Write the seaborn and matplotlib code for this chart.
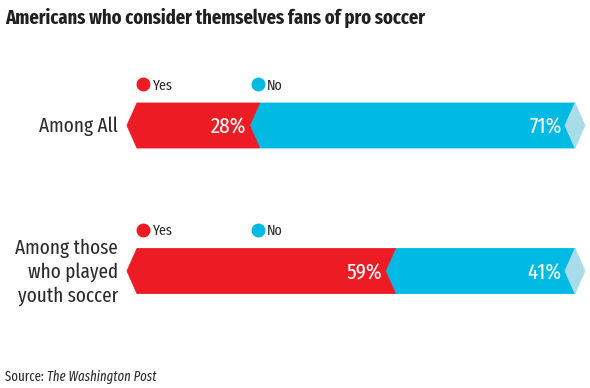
import pandas as pd
import seaborn as sns
import matplotlib.pyplot as plt
from matplotlib.patches import Polygon

# data
groups = ['Among All', 'Among those\nwho played\nyouth soccer']
yes_pct = [28, 59]
no_pct = [71, 41]
scale_max = 100
legend_labels = ['Yes', 'No']

RED = '#ED1C24'
CYAN = '#00BAE3'
TIP = '#A9DCEA'
INK = '#2b2b2b'

sns.set_style('white')
plt.rcParams['font.family'] = ['Fira Sans Extra Condensed', 'DejaVu Sans']

W, H = 590, 388
fig = plt.figure(figsize=(W / 100, H / 100), dpi=100)

# axes box in pixels: 0..100 spans x 137..575
ax_l, ax_r, ax_t, ax_b = 137, 575, 60, 340
ax = fig.add_axes([ax_l / W, (H - ax_b) / H, (ax_r - ax_l) / W, (ax_b - ax_t) / H])

df = pd.DataFrame({'group': groups, 'yes': yes_pct, 'no': no_pct})
df['end'] = scale_max  # "No" runs to the end of the scale

bar_w = 45 / 145.5
sns.barplot(data=df, x='end', y='group', color=CYAN, width=bar_w,
            saturation=1, ax=ax, orient='h')
sns.barplot(data=df, x='yes', y='group', color=RED, width=bar_w,
            saturation=1, ax=ax, orient='h')

ax.set_xlim(0, scale_max)
unit_px = 145.5  # pixels between the two bars
top = -(125.5 - ax_t) / unit_px
ax.set_ylim(top + (ax_b - ax_t) / unit_px, top)
ax.axis('off')

px = scale_max / (ax_r - ax_l)  # data units per pixel
notch = 10 * px

rects = list(ax.patches)
n = len(groups)
for k, p in enumerate(rects):
    p.remove()
    i = k % n
    y0, h = p.get_y(), p.get_height()
    yc = y0 + h / 2
    right = p.get_x() + p.get_width()
    if k < n:
        left, color, label = yes_pct[i], CYAN, no_pct[i]
    else:
        left, color, label = 0, RED, yes_pct[i]
    pts = [(left, y0), (right, y0), (right - notch, yc), (right, y0 + h),
           (left, y0 + h), (left - notch, yc)]
    ax.add_patch(Polygon(pts, closed=True, facecolor=color, edgecolor=color,
                         lw=0.6, clip_on=False, zorder=2 if k < n else 3))
    if k < n:
        tip = [(right - notch, yc), (right, y0), (right + notch, yc), (right, y0 + h)]
        ax.add_patch(Polygon(tip, closed=True, facecolor=TIP, edgecolor=TIP,
                             lw=0.6, clip_on=False, zorder=2))
    ax.text(right - notch - 3 * px, yc, f'{label}%', ha='right', va='center_baseline',
            color='white', fontsize=16.5, zorder=5)

# category labels and legends
for i, g in enumerate(groups):
    ax.text(-19 * px, i + 1 / unit_px, g, ha='right', va='center', color=INK,
            fontsize=15, linespacing=1.25, clip_on=False)
    ly = i - 41.5 / unit_px
    for lab, col, dx in zip(legend_labels, [RED, CYAN], [6, 121]):
        ax.plot([dx * px], [ly], 'o', ms=9, color=col, clip_on=False)
        ax.text((dx + 9) * px, ly, lab, ha='left', va='center_baseline', color=INK,
                fontsize=11, clip_on=False)

fig.text(5 / W, 1 - 16 / H, 'Americans who consider themselves fans of pro soccer',
         fontsize=14.5, fontweight='bold', color='#231f20', va='center_baseline')

src = fig.text(5 / W, 1 - 375 / H, 'Source: ', fontsize=10, color=INK,
               va='center_baseline')
fig.canvas.draw()
bb = src.get_window_extent()
fig.text(bb.x1 / W, 1 - 375 / H, 'The Washington Post', fontsize=10,
         style='italic', color=INK, va='center_baseline')

fig.savefig('out.png', dpi=100)
